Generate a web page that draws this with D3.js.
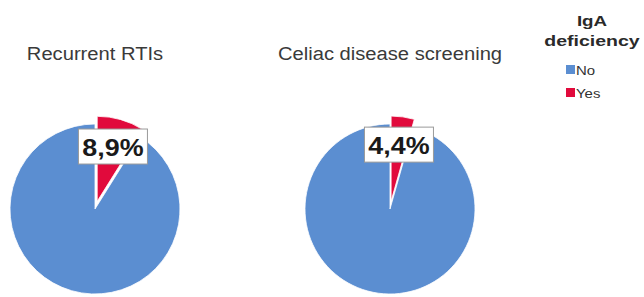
<!DOCTYPE html>
<html>
<head>
<meta charset="utf-8">
<script src="https://cdn.jsdelivr.net/npm/d3@7"></script>
<style>
  body { margin: 0; background: #fff; }
  text { font-family: "Liberation Sans", Arial, sans-serif; }
</style>
</head>
<body>
<div id="chart"></div>
<script>
// Data
var panels = ["Recurrent RTIs", "Celiac disease screening"];
var categories = ["Yes", "No"];
var yesPct = [8.9, 4.4];
var noPct = [91.1, 95.6];
var colors = { "No": "#5b8ed1", "Yes": "#e10a3c" };

var width = 644, height = 297;
var radius = 85, explode = 8;

var svg = d3.select("#chart").append("svg")
    .attr("width", width)
    .attr("height", height);

// Pie centres
var x = d3.scalePoint()
    .domain(panels)
    .range([95, 390]);
var cy = 209;

var pie = d3.pie().sort(null).value(function (d) { return d.value; });
var arc = d3.arc().innerRadius(0).outerRadius(radius);
var labelArc = d3.arc().innerRadius(65).outerRadius(65);
var fmt = function (v) { return d3.format(".1f")(v).replace(".", ",") + "%"; };

// stretch text horizontally (the source image is a bit wider than tall)
function stretch(sel, k) {
    sel.each(function () {
        var w = this.getComputedTextLength();
        d3.select(this).attr("textLength", w * k).attr("lengthAdjust", "spacingAndGlyphs");
    });
}

panels.forEach(function (p, i) {
    var data = [
        { cat: "Yes", value: yesPct[i] },
        { cat: "No", value: noPct[i] }
    ];
    var g = svg.append("g")
        .attr("transform", "translate(" + x(p) + "," + cy + ")");

    var arcs = pie(data);

    g.selectAll("path")
        .data(arcs)
        .enter().append("path")
        .attr("d", arc)
        .attr("fill", function (d) { return colors[d.data.cat]; })
        .attr("stroke", "#fff")
        .attr("stroke-width", 0.8)
        .attr("transform", function (d) {
            if (d.data.cat !== "Yes") return null;
            var a = (d.startAngle + d.endAngle) / 2;
            return "translate(" + (Math.sin(a) * explode) + "," + (-Math.cos(a) * explode) + ")";
        });

    // title
    var t = svg.append("text")
        .attr("x", x(p))
        .attr("y", 60)
        .attr("text-anchor", "middle")
        .style("font-size", "18px")
        .style("fill", "#3a3a3a")
        .text(p);
    stretch(t, 1.12);

    // label box for Yes slice
    var yes = arcs[0];
    var c = labelArc.centroid(yes);
    var lg = g.append("g").attr("transform", "translate(" + c[0] + "," + c[1] + ")");
    lg.append("rect")
        .attr("x", -34.5)
        .attr("y", -17.5)
        .attr("width", 69)
        .attr("height", 35)
        .attr("fill", "#fff")
        .attr("stroke", "#9a9a9a")
        .attr("stroke-width", 1);
    var lt = lg.append("text")
        .attr("y", 9)
        .attr("text-anchor", "middle")
        .style("font-size", "24px")
        .style("font-weight", "bold")
        .style("fill", "#1a1a1a")
        .text(fmt(yesPct[i]));
    stretch(lt, 1.12);
});

// Legend
var legend = svg.append("g").attr("class", "legend");
var lt1 = legend.append("text")
    .attr("x", 592).attr("y", 26)
    .attr("text-anchor", "middle")
    .style("font-size", "15px").style("font-weight", "bold").style("fill", "#2a2a2a")
    .text("IgA");
var lt2 = legend.append("text")
    .attr("x", 592).attr("y", 46)
    .attr("text-anchor", "middle")
    .style("font-size", "15px").style("font-weight", "bold").style("fill", "#2a2a2a")
    .text("deficiency");
stretch(lt1, 1.25);
stretch(lt2, 1.3);

var ly = d3.scalePoint().domain(["No", "Yes"]).range([65, 88]);
var items = legend.selectAll(".item")
    .data(["No", "Yes"])
    .enter().append("g")
    .attr("class", "item")
    .attr("transform", function (d) { return "translate(566," + ly(d) + ")"; });
items.append("rect")
    .attr("width", 9).attr("height", 9)
    .attr("fill", function (d) { return colors[d]; });
items.append("text")
    .attr("x", 10).attr("y", 9.5)
    .style("font-size", "13px").style("fill", "#333")
    .text(function (d) { return d; })
    .call(stretch, 1.15);
</script>
</body>
</html>
